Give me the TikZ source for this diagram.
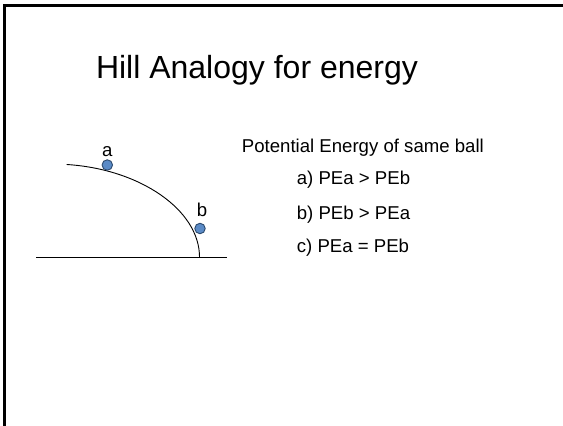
\documentclass[tikz,border=0pt]{standalone}
\usepackage{fontspec}
\setmainfont{Liberation Sans}
\usepackage{xcolor}
\usepackage{tikz}
\usetikzlibrary{positioning}
\definecolor{HILLink}{HTML}{000000}
\definecolor{HILLball}{HTML}{5A8AC6}
\definecolor{HILLballEdge}{HTML}{2C4A6E}
\tikzset{
  slidetitle/.style={anchor=base, inner sep=0pt, font=\fontsize{32}{38}\selectfont, text=HILLink},
  bodytext/.style={anchor=base west, inner sep=0pt, font=\fontsize{18.6}{22}\selectfont, text=HILLink},
  balllabel/.style={anchor=base, inner sep=0pt, font=\fontsize{18.6}{22}\selectfont, text=HILLink},
  ball/.style={circle, draw=HILLballEdge, fill=HILLball, line width=0.9pt, minimum size=10.5pt, inner sep=0pt},
  hillline/.style={draw=HILLink, line width=0.9pt},
  slideframe/.style={draw=HILLink, line width=2.8pt}
}

\begin{document}
\begin{tikzpicture}[x=1pt, y=-1pt]
\useasboundingbox (0,0) rectangle (563,426);
% slide edge
\draw[slideframe] (4.3,430) -- (4.3,5.7) -- (570,5.7);
% title
\node[slidetitle] (title) at (257,78) {Hill Analogy for energy};
% hill and ground
\coordinate (hilltop) at (66.7,164.5);
\coordinate (hillfoot) at (199.5,257);
\coordinate (groundL) at (36,257);
\coordinate (groundR) at (227,257);
\draw[hillline] (groundL) -- (groundR);
\draw[hillline] (hilltop) .. controls (140,169) and (199.5,210) .. (hillfoot);
% balls
\node[ball] (balla) at (107.3,165) {};
\node[ball] (ballb) at (200,228.5) {};
\node[balllabel] (laba) at (107.3,156.5) {a};
\node[balllabel] (labb) at (202,216) {b};
% question
\node[bodytext] (question) at (241.7,152) {Potential Energy of same ball};
\node[bodytext] (opta) at (296.7,184.3) {a) PEa > PEb};
\node[bodytext] (optb) at (296.7,219) {b) PEb > PEa};
\node[bodytext] (optc) at (296.7,252.7) {c) PEa = PEb};
\end{tikzpicture}
\end{document}
